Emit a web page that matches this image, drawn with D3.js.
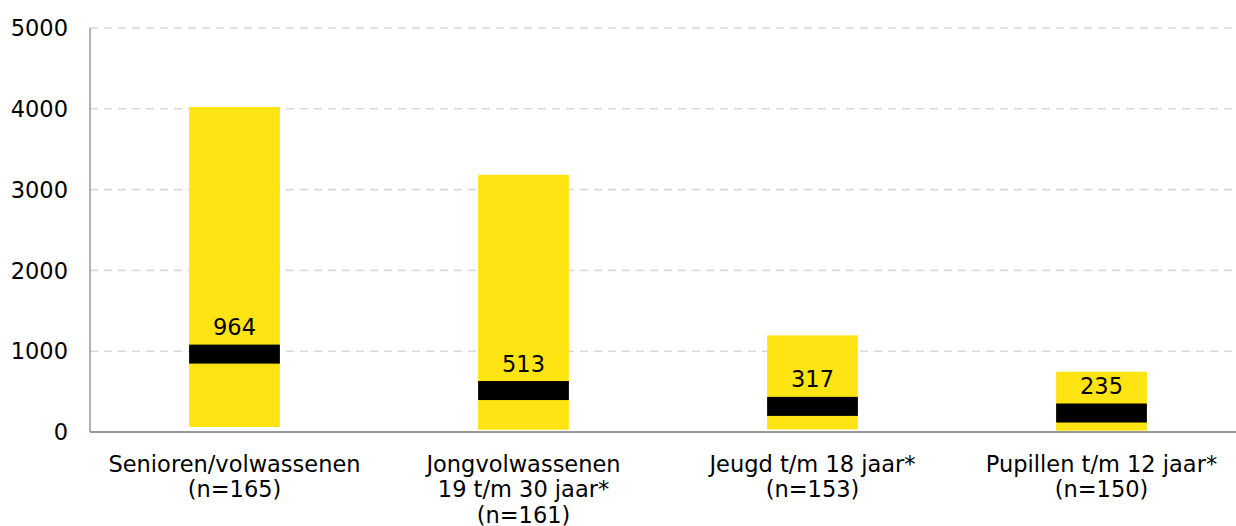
<!DOCTYPE html>
<html>
<head>
<meta charset="utf-8">
<script src="https://cdn.jsdelivr.net/npm/d3@7"></script>
<style>
  body { margin: 0; background: #fff; }
  text { font-family: "DejaVu Sans", sans-serif; fill: #000; }
</style>
</head>
<body>
<svg id="chart" width="1236" height="526"></svg>
<script>
// data
var groups = [["Senioren/volwassenen"], ["Jongvolwassenen", "19 t/m 30 jaar*"], ["Jeugd t/m 18 jaar*"], ["Pupillen t/m 12 jaar*"]];
var nLabels = ["(n=165)", "(n=161)", "(n=153)", "(n=150)"];
var minVals = [62, 28, 32, 16];
var maxVals = [4022, 3184, 1196, 746];
var medians = [964, 513, 317, 235];
var yTicks = [0, 1000, 2000, 3000, 4000, 5000];

var svg = d3.select("#chart"),
    margin = {top: 28, right: -10, bottom: 94, left: 90},
    width = +svg.attr("width") - margin.left - margin.right,
    height = +svg.attr("height") - margin.top - margin.bottom,
    g = svg.append("g").attr("transform", "translate(" + margin.left + "," + margin.top + ")");

var x = d3.scaleBand()
    .domain(d3.range(groups.length))
    .range([0, width])
    .paddingInner(0.686)
    .paddingOuter(0.343);

var y = d3.scaleLinear()
    .domain([0, 5000])
    .range([height, 0]);

var yellow = "#FFE414",
    bandH = 19; // median marker thickness in px

// dashed gridlines
g.append("g")
  .selectAll("line")
  .data(yTicks.filter(function(d) { return d > 0; }))
  .enter().append("line")
    .attr("x1", 0)
    .attr("x2", width)
    .attr("y1", function(d) { return y(d); })
    .attr("y2", function(d) { return y(d); })
    .attr("stroke", "#d9d9d9")
    .attr("stroke-width", 1.6)
    .attr("stroke-dasharray", "8,6");

// y tick labels
g.append("g")
  .selectAll("text")
  .data(yTicks)
  .enter().append("text")
    .attr("x", -22)
    .attr("y", function(d) { return y(d); })
    .attr("dy", "0.36em")
    .attr("text-anchor", "end")
    .attr("font-size", 22.5)
    .text(function(d) { return d; });

// yellow range bars
g.append("g")
  .selectAll("rect")
  .data(d3.range(groups.length))
  .enter().append("rect")
    .attr("x", function(i) { return x(i); })
    .attr("width", x.bandwidth())
    .attr("y", function(i) { return y(maxVals[i]); })
    .attr("height", function(i) { return y(minVals[i]) - y(maxVals[i]); })
    .attr("fill", yellow);

// black median markers
g.append("g")
  .selectAll("rect")
  .data(d3.range(groups.length))
  .enter().append("rect")
    .attr("x", function(i) { return x(i); })
    .attr("width", x.bandwidth())
    .attr("y", function(i) { return y(medians[i]) - bandH / 2; })
    .attr("height", bandH)
    .attr("fill", "#000");

// median labels
g.append("g")
  .selectAll("text")
  .data(d3.range(groups.length))
  .enter().append("text")
    .attr("x", function(i) { return x(i) + x.bandwidth() / 2; })
    .attr("y", function(i) { return y(medians[i]) - 19; })
    .attr("text-anchor", "middle")
    .attr("font-size", 22.5)
    .text(function(i) { return medians[i]; });

// axes lines
g.append("line")
    .attr("x1", 0).attr("x2", 0)
    .attr("y1", 0).attr("y2", height)
    .attr("stroke", "#999").attr("stroke-width", 1.5);
g.append("line")
    .attr("x1", 0).attr("x2", width)
    .attr("y1", height).attr("y2", height)
    .attr("stroke", "#999").attr("stroke-width", 2);

// category labels
var cat = g.append("g")
  .selectAll("text")
  .data(d3.range(groups.length))
  .enter().append("text")
    .attr("x", function(i) { return x(i) + x.bandwidth() / 2; })
    .attr("y", height + 39.5)
    .attr("text-anchor", "middle")
    .attr("font-size", 22.5);

cat.each(function(i) {
  var lines = groups[i].concat([nLabels[i]]);
  var t = d3.select(this);
  lines.forEach(function(l, k) {
    t.append("tspan")
      .attr("x", x(i) + x.bandwidth() / 2)
      .attr("dy", k === 0 ? 0 : 25.5)
      .text(l);
  });
});
</script>
</body>
</html>
